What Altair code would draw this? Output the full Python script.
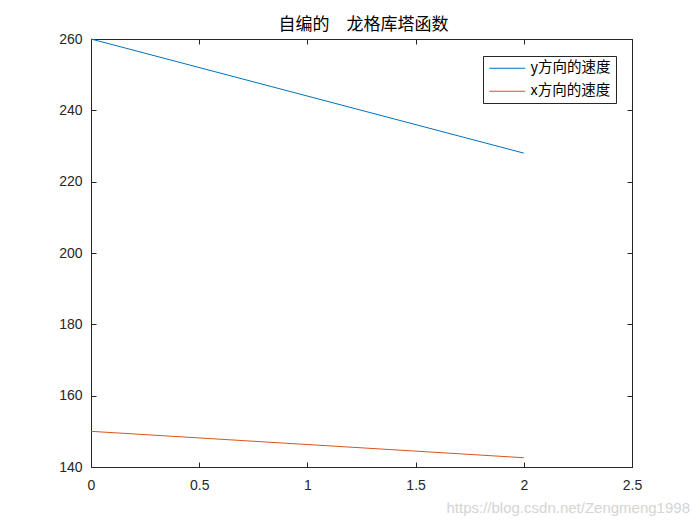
import altair as alt
import pandas as pd

# data
t_vals = [0, 2]
vy_vals = [260, 228]
vx_vals = [150, 142.6]
series_names = ["y方向的速度", "x方向的速度"]
colors = ["#0072BD", "#D95319"]

rows = []
for t, v in zip(t_vals, vy_vals):
    rows.append({"t": t, "v": v, "s": series_names[0]})
for t, v in zip(t_vals, vx_vals):
    rows.append({"t": t, "v": v, "s": series_names[1]})
df = pd.DataFrame(rows)

FONT = "Liberation Sans"
xs = alt.Scale(domain=[0, 2.5], nice=False)
ys = alt.Scale(domain=[140, 260], nice=False)
xvals = [0, 0.5, 1, 1.5, 2, 2.5]
yvals = [140, 160, 180, 200, 220, 240, 260]

base = alt.Chart(df)

lines = base.mark_line(strokeWidth=1).encode(
    x=alt.X("t:Q", scale=xs, title=None,
            axis=alt.Axis(orient="bottom", values=xvals, ticks=False, domain=False, grid=False,
                          labelPadding=11, labelFont=FONT, labelFontSize=14, labelColor="#262626",
                          labelFlush=False, labelOverlap=False,
                          labelExpr="datum.value == 0 ? '0' : format(datum.value, '~g')")),
    y=alt.Y("v:Q", scale=ys, title=None,
            axis=alt.Axis(orient="left", values=yvals, ticks=False, domain=False, grid=False,
                          labelPadding=9, labelFont=FONT, labelFontSize=14, labelColor="#262626",
                          labelFlush=False, labelOverlap=False)),
    color=alt.Color("s:N", scale=alt.Scale(domain=series_names, range=colors), title=None,
                    legend=alt.Legend(orient="none", legendX=392, legendY=17,
                                      symbolType="M-1,0H5", symbolSize=144, symbolStrokeWidth=1,
                                      labelFont="Noto Sans CJK SC", labelFontSize=14.5, labelColor="#000000",
                                      strokeColor="#262626", fillColor="white", padding=5,
                                      rowPadding=8, labelOffset=28)),
)

ticks_bl = base.mark_line(opacity=0).encode(
    x=alt.X("t:Q", scale=xs, title=None,
            axis=alt.Axis(orient="bottom", values=xvals, labels=False, domain=False, grid=False,
                          tickSize=5, offset=-5, tickColor="#262626")),
    y=alt.Y("v:Q", scale=ys, title=None,
            axis=alt.Axis(orient="left", values=yvals, labels=False, domain=False, grid=False,
                          tickSize=5, offset=-5, tickColor="#262626")),
    detail="s:N",
)

ticks_tr = base.mark_line(opacity=0).encode(
    x=alt.X("t:Q", scale=xs, title=None,
            axis=alt.Axis(orient="top", values=xvals, labels=False, domain=False, grid=False,
                          tickSize=5, offset=-5, tickColor="#262626")),
    y=alt.Y("v:Q", scale=ys, title=None,
            axis=alt.Axis(orient="right", values=yvals, labels=False, domain=False, grid=False,
                          tickSize=5, offset=-5, tickColor="#262626")),
    detail="s:N",
)

watermark = alt.Chart(pd.DataFrame({"w": ["https://blog.csdn.net/Zengmeng1998"]})).mark_text(
    align="right", baseline="alphabetic", font=FONT, fontSize=15, color="#d4d4d4"
).encode(text="w:N", x=alt.value(599), y=alt.value(474))

chart = alt.layer(lines, ticks_bl, ticks_tr, watermark).resolve_axis(
    x="independent", y="independent"
).properties(
    width=541, height=428,
    title=alt.TitleParams("自编的\u3000龙格库塔函数", font="Noto Sans CJK SC", fontSize=17,
                          fontWeight="normal", color="#000000", anchor="middle", offset=1,
                          dx=2, dy=3),
    autosize=alt.AutoSizeParams(type="none"),
    padding={"left": 83, "top": 31, "right": 60, "bottom": 49},
).configure_view(stroke="#262626", strokeWidth=1)

chart.save("out.html", embed_options={"renderer": "svg", "actions": False})
